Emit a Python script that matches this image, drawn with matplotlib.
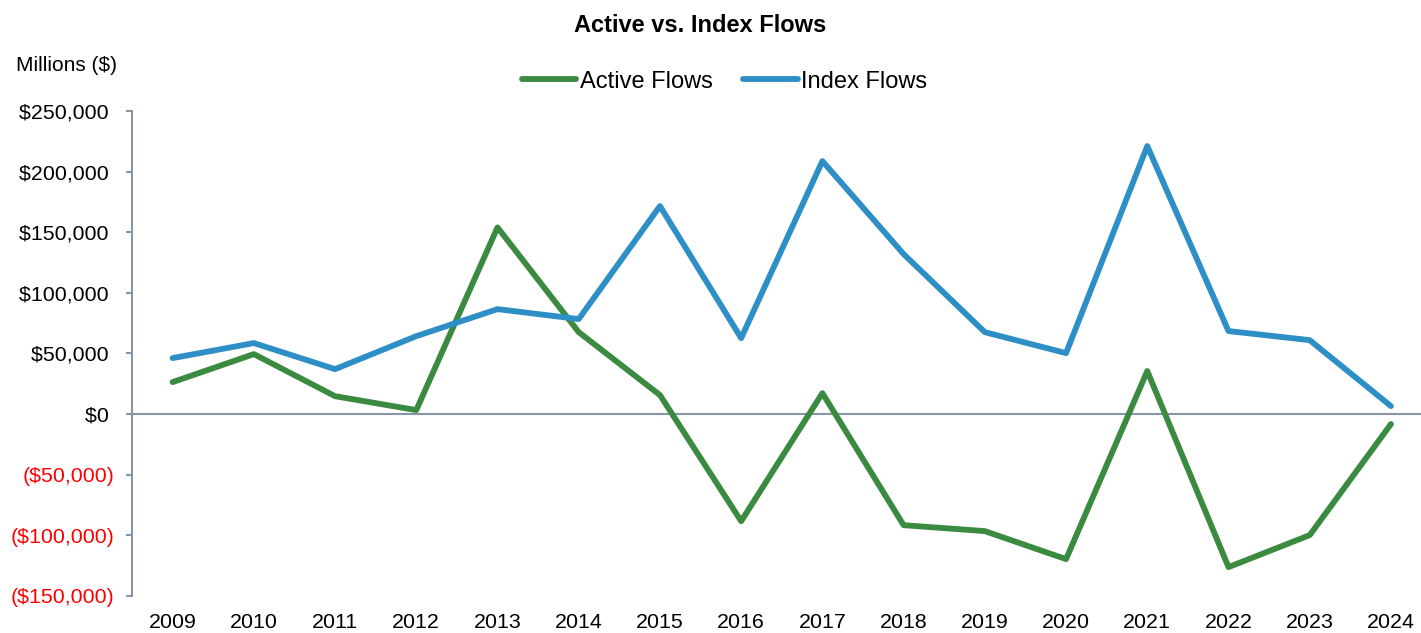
import matplotlib.pyplot as plt
from matplotlib.ticker import FuncFormatter

years = list(range(2009, 2025))

active_flows = [26400, 49500, 14800, 3300, 154000, 67600, 15700, -88300,
                17300, -91600, -96500, -119600, 35500, -126200, -99800, -8200]

index_flows = [46200, 58600, 37100, 64300, 86600, 78400, 171600, 62700,
               208700, 132000, 67600, 50300, 221100, 68500, 61000, 6600]

y_ticks = [-150000, -100000, -50000, 0, 50000, 100000, 150000, 200000, 250000]

plt.rcParams['font.family'] = ['Liberation Sans', 'DejaVu Sans']

green = '#3a8a3f'
blue = '#2e8fc7'
axis_grey = '#8796a6'

fig = plt.figure(figsize=(14.21, 6.33), dpi=100)
ax = fig.add_axes([0.0929, 0.0585, 0.9071, 0.7661])

ax.axhline(0, color=axis_grey, lw=1.5, zorder=1)
ax.plot(years, active_flows, color=green, lw=4.2, solid_capstyle='round',
        solid_joinstyle='round', label='Active Flows', zorder=3)
ax.plot(years, index_flows, color=blue, lw=4.2, solid_capstyle='round',
        solid_joinstyle='round', label='Index Flows', zorder=3)

ax.set_xlim(2008.5, 2024.37)
ax.set_ylim(-150000, 250000)
ax.set_xticks(years)
ax.set_xticklabels([str(y) for y in years])
ax.set_yticks(y_ticks)


def money(v, pos):
    if v < 0:
        return '(${:,.0f})'.format(-v)
    return '${:,.0f} '.format(v)


ax.yaxis.set_major_formatter(FuncFormatter(money))
for lbl, v in zip(ax.get_yticklabels(), y_ticks):
    lbl.set_color('red' if v < 0 else 'black')

for s in ['top', 'right', 'bottom']:
    ax.spines[s].set_visible(False)
ax.spines['left'].set_color(axis_grey)
ax.spines['left'].set_linewidth(1.5)

ax.tick_params(axis='y', length=4.5, width=1.5, color=axis_grey, pad=8, labelsize=15.4)
ax.tick_params(axis='x', length=0, pad=12, labelsize=15.4)

fig.text(0.493, 0.96, 'Active vs. Index Flows', ha='center', va='center',
         fontsize=17, fontweight='bold')
fig.text(0.0113, 0.896, 'Millions ($)', ha='left', va='center', fontsize=15)

fig.legend(loc='center', bbox_to_anchor=(0.51, 0.871), ncol=2, frameon=False,
           fontsize=17, handlelength=2.3, handletextpad=0.15, columnspacing=1.3)

fig.savefig('out.png', dpi=100)
